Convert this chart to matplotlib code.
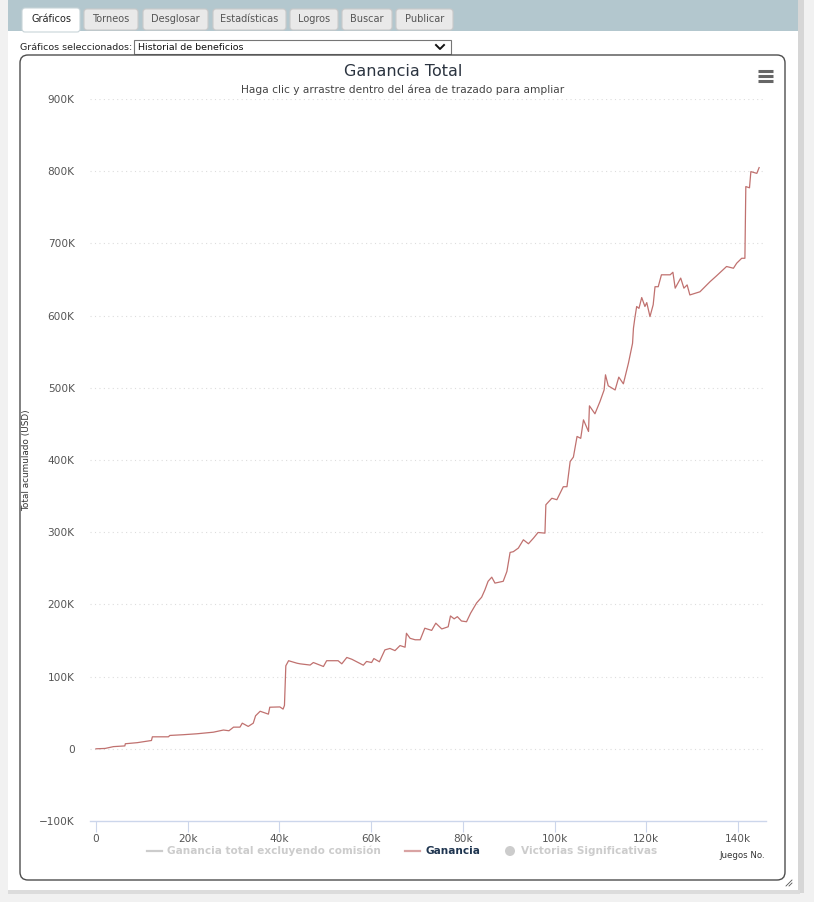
import matplotlib
matplotlib.use("Agg")
import matplotlib.pyplot as plt
from matplotlib.patches import Rectangle, FancyBboxPatch, Circle
from matplotlib.ticker import FixedLocator, FuncFormatter

# ---------------- data ----------------
games_k = [0, 2, 3.8, 6.3, 6.4, 9, 12.1, 12.3, 15.8, 16.1, 19, 22, 25.6, 27.8, 29, 30, 31.4,
           31.9, 33.2, 34.3, 34.8, 35.8, 37.6, 37.9, 40.1, 40.8, 41.1, 41.4, 42, 43.8, 44.5,
           46.7, 47.4, 49.6, 50.3, 52.8, 53.6, 54.7, 55.8, 58.3, 59, 60.1, 60.6, 61.8, 63,
           64.1, 65.2, 66.3, 67.4, 67.7, 68.5, 69.6, 70.7, 71.7, 73.2, 74.1, 75.4, 76.8,
           77.3, 78.1, 78.8, 79.7, 80.8, 81.7, 83, 84.1, 84.8, 85.5, 86.3, 87, 88.8, 89.6,
           90.3, 91, 92.1, 93.2, 94.3, 95.4, 96.4, 97.9, 98.1, 99.4, 100.5, 101.9, 102.7,
           103.4, 104.1, 104.9, 105.7, 106.3, 107.4, 107.6, 108.8, 109.9, 110.8, 111.1,
           111.7, 113.2, 114, 115, 116.1, 117, 117.2, 117.5, 117.9, 118.4, 119, 119.7,
           120.1, 120.8, 121.5, 121.9, 122.6, 123.3, 125.2, 125.8, 126.3, 127.5, 128.2,
           128.9, 129.5, 131.7, 133.9, 135.3, 137.5, 139, 139.7, 140.8, 141.5, 141.7,
           142.5, 142.8, 144.1, 144.6]
profit_k = [0, 0.5, 3, 4, 7, 8.5, 11.5, 16.6, 16.6, 18.5, 19.5, 20.8, 23, 26, 25, 30, 30,
            35.5, 31, 35.5, 45.7, 52, 48, 57.6, 58, 55, 60, 115, 122, 118.6, 117.7,
            116, 119.5, 114, 122, 122, 117.7, 126.5, 124, 115.8, 121, 119.5, 125, 120.5, 137,
            139, 136, 143, 140.7, 160, 153, 151, 151, 167, 164, 174, 166, 169,
            184, 180, 183, 177, 176, 188, 202, 210, 220, 232, 237.7, 229.5, 232, 245.6,
            272, 273, 278, 289.5, 284, 291.8, 299.6, 298.7, 338, 347, 345, 363, 363,
            398, 404, 432.6, 430, 455.6, 439.5, 475, 464, 481, 497, 518,
            502.8, 497, 514.8, 505.5, 534, 561.6, 582.6, 596.5, 612.6, 610, 625, 612.6,
            618, 598.6, 615, 640, 640, 656.5, 656.5, 660, 638, 652, 638,
            642.5, 628.6, 633, 647, 655, 668, 665.6, 672.5, 679.4, 679.4, 778.7,
            777, 799.4, 797, 805]

y_ticks = [-100, 0, 100, 200, 300, 400, 500, 600, 700, 800, 900]
x_ticks = [0, 20, 40, 60, 80, 100, 120, 140]
tabs = ["Gráficos", "Torneos", "Desglosar", "Estadísticas", "Logros", "Buscar", "Publicar"]
legend_items = ["Ganancia total excluyendo comisión", "Ganancia", "Victorias Significativas"]

W, H = 814, 902
fig = plt.figure(figsize=(W / 100, H / 100), dpi=100)
fig.patch.set_facecolor("#f1f1f1")

# ---------- overlay (page chrome) in pixel coords ----------
bg = fig.add_axes([0, 0, 1, 1])
bg.set_xlim(0, W)
bg.set_ylim(H, 0)
bg.axis("off")
bg.set_zorder(0)

# right shadow
bg.add_patch(Rectangle((798, 0), 6, 893, color="#d6d6d6", lw=0))
bg.add_patch(Rectangle((8, 890), 792, 4, color="#dcdcdc", lw=0))
# white panel
bg.add_patch(Rectangle((8, 0), 790, 890, color="white", lw=0))
# tab band
bg.add_patch(Rectangle((8, 0), 790, 31, color="#b3c7ce", lw=0))

tab_x = [(22, 80), (84, 138), (143, 208), (213, 286), (290, 338), (342, 392), (396, 453)]
for i, (name, (x0, x1)) in enumerate(zip(tabs, tab_x)):
    if i == 0:
        bg.add_patch(FancyBboxPatch((x0, 8), x1 - x0, 24, boxstyle="round,pad=0,rounding_size=3",
                                    fc="white", ec="#c8d4d8", lw=0.8))
        col = "#222222"
    else:
        bg.add_patch(FancyBboxPatch((x0, 9), x1 - x0, 21, boxstyle="round,pad=0,rounding_size=3",
                                    fc="#e9e9e9", ec="#c9c9c9", lw=0.8))
        col = "#555555"
    bg.text((x0 + x1) / 2, 19.5, name, ha="center", va="center", fontsize=7.0, color=col,
            family="DejaVu Sans")

# select row
bg.text(20, 47, "Gráficos seleccionados:", ha="left", va="center", fontsize=6.8,
        color="#222222")
bg.add_patch(Rectangle((134, 40), 317, 14, fc="white", ec="#767676", lw=0.8))
bg.text(138, 47, "Historial de beneficios", ha="left", va="center", fontsize=6.8,
        color="#111111")
bg.plot([436, 440, 444], [45, 49, 45], color="#111111", lw=1.4)

# chart container
bg.add_patch(FancyBboxPatch((20, 55), 765, 825, boxstyle="round,pad=0,rounding_size=8",
                            fc="white", ec="#4d4d4d", lw=1.0))

# hamburger icon
for yy in (71, 76, 81):
    bg.plot([758, 773], [yy, yy], color="#666666", lw=2.2, solid_capstyle="butt")

# titles
bg.text(403, 71, "Ganancia Total", ha="center", va="center", fontsize=11.5, color="#2b3440")
bg.text(403, 90, "Haga clic y arrastre dentro del área de trazado para ampliar",
        ha="center", va="center", fontsize=7.7, color="#444444")

# y axis title
bg.text(27, 460, "Total acumulado (USD)", ha="center", va="center", rotation=90,
        fontsize=6.4, color="#333333")

# legend
ly = 851
bg.plot([147, 162], [ly, ly], color="#cccccc", lw=1.6)
bg.text(167, ly, legend_items[0], ha="left", va="center", fontsize=7.6, color="#cccccc",
        fontweight="bold")
bg.plot([405, 420], [ly, ly], color="#d9a3a3", lw=1.6)
bg.text(425, ly, legend_items[1], ha="left", va="center", fontsize=7.6, color="#1f3550",
        fontweight="bold")
bg.add_patch(Circle((510, ly), 5, color="#cccccc", lw=0))
bg.text(521, ly, legend_items[2], ha="left", va="center", fontsize=7.6, color="#cccccc",
        fontweight="bold")
bg.text(765, 855, "Juegos No.", ha="right", va="center", fontsize=6.2, color="#333333")

# resize grip
for d in (3, 6):
    bg.plot([792 - d, 792], [886, 886 - d], color="#555555", lw=0.6)

# ---------------- plot area ----------------
left, right, top, bottom = 90, 766, 99, 821
ax = fig.add_axes([left / W, 1 - bottom / H, (right - left) / W, (bottom - top) / H])
ax.set_zorder(2)
ax.patch.set_alpha(0)
ax.set_xlim(-1.3, 146.1)
ax.set_ylim(-100, 900)

ax.plot(games_k, profit_k, color="#c0716f", lw=0.9, zorder=3)

ax.yaxis.set_major_locator(FixedLocator(y_ticks))
ax.xaxis.set_major_locator(FixedLocator(x_ticks))
ax.yaxis.set_major_formatter(FuncFormatter(lambda v, p: "0" if v == 0 else ("\u2212" if v < 0 else "") + f"{abs(int(v))}K"))
ax.xaxis.set_major_formatter(FuncFormatter(lambda v, p: "0" if v == 0 else f"{int(v)}k"))
for gy in y_ticks[1:]:
    ax.axhline(gy, color="#dddddd", lw=0.8, ls=(0, (1, 3)), zorder=1)

for s in ("top", "right", "left"):
    ax.spines[s].set_visible(False)
ax.spines["bottom"].set_color("#ccd6eb")
ax.spines["bottom"].set_linewidth(1.0)
ax.tick_params(axis="y", length=0, pad=11, labelsize=7.6, labelcolor="#555555")
ax.tick_params(axis="x", length=8, width=0.8, color="#ccd6eb", pad=1, labelsize=7.6,
               labelcolor="#555555")

fig.savefig("out.png", dpi=100, facecolor=fig.get_facecolor())
